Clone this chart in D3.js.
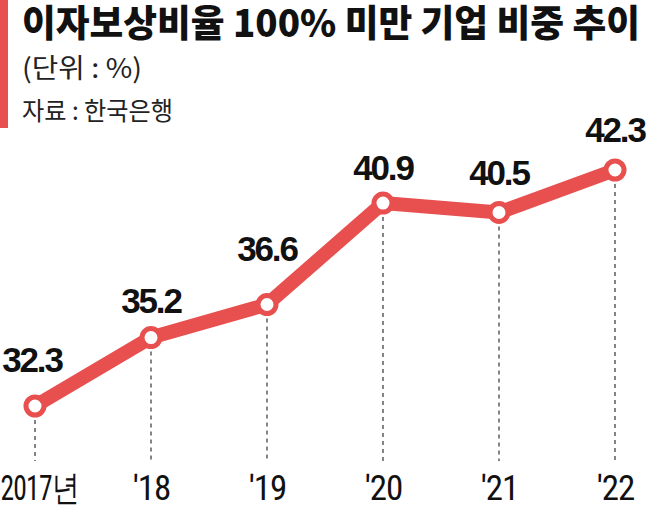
<!DOCTYPE html>
<html><head><meta charset="utf-8">
<script src="https://cdn.jsdelivr.net/npm/d3@7"></script>
<style>body{margin:0;background:#fff}svg{display:block}</style>
</head><body>
<svg id="c" width="650" height="508"></svg>
<script>
const years = ["2017년", "'18", "'19", "'20", "'21", "'22"];
const values = [32.3, 35.2, 36.6, 40.9, 40.5, 42.3];
const valueLabels = ["32.3", "35.2", "36.6", "40.9", "40.5", "42.3"];
const titleText = "이자보상비율 100% 미만 기업 비중 추이";
const unitText = "(단위 : %)";
const sourceText = "자료 : 한국은행";

const svg = d3.select("#c");
const red = "#e8504f";
const kr = "'Noto Sans CJK KR','Noto Sans',sans-serif";
const narrow = "'Liberation Sans Narrow','Roboto Condensed','Liberation Sans',Arial,sans-serif";

svg.append("rect").attr("x",0).attr("y",0).attr("width",8).attr("height",128).attr("fill",red);
svg.append("text").attr("x",22).attr("y",37).attr("font-family",kr).attr("font-weight",900)
  .attr("font-size",37).attr("fill","#111").attr("textLength",618).attr("lengthAdjust","spacingAndGlyphs").text(titleText);
svg.append("text").attr("x",22).attr("y",78).attr("font-family",kr).attr("font-weight",400)
  .attr("font-size",27).attr("fill","#222").attr("textLength",120).attr("lengthAdjust","spacingAndGlyphs").text(unitText);
svg.append("text").attr("x",22).attr("y",120).attr("font-family",kr).attr("font-weight",400)
  .attr("font-size",25).attr("fill","#222").attr("textLength",151).attr("lengthAdjust","spacingAndGlyphs").text(sourceText);

const x = d3.scalePoint().domain(years).range([35,615]);
const y = d3.scaleLinear().domain([32.3,42.3]).range([406,170]);

const axisG = svg.append("g").attr("transform","translate(0,500)")
  .call(d3.axisBottom(x).tickSize(0).tickPadding(0));
axisG.select(".domain").remove();
axisG.selectAll("text").attr("font-family",narrow).attr("font-size",35).attr("fill","#111")
  .attr("dy",0).attr("text-anchor","middle").attr("letter-spacing",-1);
axisG.selectAll(".tick").filter((d,i)=>i===0).select("text")
  .attr("text-anchor","start").attr("x",-35).attr("textLength",78).attr("lengthAdjust","spacingAndGlyphs");

const data = years.map((k,i)=>({k, v: values[i], l: valueLabels[i]}));

svg.append("g").selectAll("line").data(data).join("line")
  .attr("x1",d=>x(d.k)).attr("x2",d=>x(d.k))
  .attr("y1",d=>y(d.v)+14).attr("y2",461)
  .attr("stroke","#333").attr("stroke-width",1.2).attr("stroke-dasharray","4,4");

svg.append("path").datum(data)
  .attr("d", d3.line().x(d=>x(d.k)).y(d=>y(d.v)))
  .attr("fill","none").attr("stroke",red).attr("stroke-width",14).attr("stroke-linejoin","round");

svg.append("g").selectAll("circle").data(data).join("circle")
  .attr("cx",d=>x(d.k)).attr("cy",d=>y(d.v)).attr("r",9)
  .attr("fill","#fff").attr("stroke",red).attr("stroke-width",5);

const labelDy = [-34, -25, -44, -23, -27, -28];
const labelDx = [-3, 0, 0, 0, 0, 0];
svg.append("g").selectAll("text").data(data).join("text")
  .attr("x",(d,i)=>x(d.k)+labelDx[i]).attr("y",(d,i)=>y(d.v)+labelDy[i])
  .attr("text-anchor","middle").attr("font-family","'Liberation Sans',Arial,sans-serif")
  .attr("font-weight",700).attr("font-size",35).attr("letter-spacing",-2.2).attr("fill","#111")
  .text(d=>d.l);
</script>
</body></html>
